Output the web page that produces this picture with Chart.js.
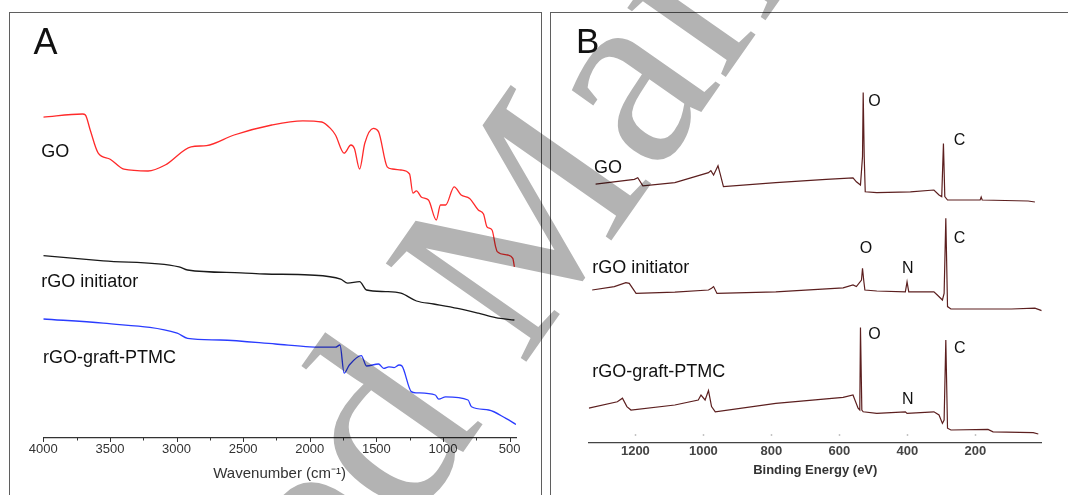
<!DOCTYPE html>
<html>
<head>
<meta charset="utf-8">
<script src="https://cdn.jsdelivr.net/npm/chart.js@4.4.1/dist/chart.umd.min.js"></script>
<style>
    html, body { margin: 0; padding: 0; background: #fff; }
    body { width: 1068px; height: 495px; position: relative; overflow: hidden; font-family: "Liberation Sans", Arial, sans-serif; }
    .panel { position: absolute; top: 12px; height: 483px; box-sizing: border-box; border: 1px solid #5f5f5f; border-bottom: none; }
    #panelA { left: 9px; width: 533px; }
    #panelB { left: 550px; width: 530px; border-right: none; }
    .panel canvas { display: block; }
    #wm { position: absolute; left: 0; top: 0; mix-blend-mode: multiply; pointer-events: none; }
</style>
</head>
<body>
<div class="panel" id="panelA"><canvas id="chartA" width="531" height="482"></canvas></div>
<div class="panel" id="panelB"><canvas id="chartB" width="517" height="482"></canvas></div>
<canvas id="wm" width="1068" height="495"></canvas>

<script>
// ---------------- FTIR (panel A): wavenumber (cm-1) vs transmittance (a.u.)
var GO_WN = [4000, 3705, 3684, 3648, 3589, 3498, 3395, 3214, 3085, 2891, 2775, 2568, 2285, 2052, 1910, 1845,
    1807, 1742, 1691, 1665, 1626, 1587, 1523, 1484, 1419, 1380, 1316, 1251, 1226, 1199, 1161, 1109, 1050,
    1019, 980, 916, 864, 800, 735, 696, 670, 632, 605, 593, 515, 476, 464];
var GO_T = [80.2, 81, 80.75, 77, 71.3, 69.7, 67.2, 66.75, 68.25, 72.8, 73.1, 75.75, 78.25, 79.3, 79, 77.4,
    75.75, 71.2, 73.25, 72.4, 67.25, 73.7, 77.4, 76.6, 67.8, 67.25, 67, 66, 61.2, 61.8, 60.2, 59.5, 54.5,
    58.25, 58.25, 62.8, 60.75, 59.9, 57, 56, 52.8, 52, 47.8, 46.6, 45.75, 44.9, 42.8];

var RGO_WN = [4000, 3550, 2981, 2917, 2517, 2336, 2000, 1768, 1716, 1626, 1574, 1432, 1316, 1199, 1070, 890, 735, 605, 464];
var RGO_T = [45.6, 44.3, 42.8, 42, 41.3, 41, 40.75, 39.7, 38.7, 39.1, 37, 36.6, 36.2, 34.25, 33.5, 32.4, 31.2, 30.1, 29.5];

var PTMC_WN = [4000, 3550, 2995, 2917, 2672, 2258, 2000, 1807, 1773, 1742, 1703, 1613, 1574, 1484, 1445, 1406,
    1367, 1329, 1308, 1238, 1199, 1058, 1032, 980, 812, 786, 657, 528, 452];
var PTMC_T = [29.75, 28.7, 26.2, 24.9, 24.5, 23.5, 22.8, 22.7, 23.25, 16.2, 18.25, 20.6, 18, 18.5, 17.4, 17.8,
    17.6, 18.25, 18, 11.6, 11.3, 10.75, 9.7, 10.3, 9.5, 7.8, 7, 4.9, 3.4];

var TICKS_A = [500, 1000, 1500, 2000, 2500, 3000, 3500, 4000];
var MINOR_A = [750, 1250, 1750, 2250, 2750, 3250, 3750];

var NAMES_A = ['GO', 'rGO initiator', 'rGO-graft-PTMC'];
var NAMES_A_X = [4015, 4015, 4002];
var NAMES_A_Y = [70.2, 37.8, 18.75];

// ---------------- XPS survey (panel B): binding energy (eV) vs intensity (a.u.)
var GO_EV = [1317, 1203, 1193, 1178, 1084, 985, 978, 970, 957, 951, 941, 787, 639, 560, 550, 538, 532, 530,
    527, 524, 490, 391, 322, 307, 299, 294, 290, 282, 243, 186, 183, 180, 45, 25];
var GO_I = [64.7, 65.9, 66.3, 64.3, 65.1, 67.6, 68.1, 67, 69.3, 67.4, 64.1, 65.1, 65.9, 66.3, 65.3, 64.5, 71.6, 87.6,
    71.6, 62.8, 62.6, 62.8, 63.25, 62, 61.6, 74.9, 61.6, 60.75, 60.75, 60.75, 61.5, 60.75, 60.5, 60.25];

var RGO_EV = [1327, 1262, 1228, 1218, 1198, 1084, 985, 976, 970, 960, 787, 589, 560, 550, 535, 532, 528, 525,
    490, 406, 401, 396, 322, 312, 297, 292, 287, 282, 272, 94, 25, 5];
var RGO_I = [38.25, 39.1, 40.1, 39.9, 37.4, 37.7, 38.25, 38.7, 39.1, 37.4, 37.8, 38.8, 39.5, 39.1, 40.75, 43.7, 40.3, 38.25,
    38, 37.8, 40.3, 37.8, 37.8, 37, 35.75, 37.4, 56.2, 34.1, 33.5, 33.5, 33.7, 33.1];

var PTMC_EV = [1337, 1253, 1238, 1225, 1213, 1084, 1015, 1007, 995, 985, 976, 965, 787, 589, 560, 545, 540, 538,
    534, 530, 490, 406, 401, 322, 307, 297, 292, 287, 282, 272, 163, 148, 30, 15];
var PTMC_I = [8.7, 10.3, 11.2, 9.1, 8.25, 9.5, 10.75, 12, 10.75, 13.1, 9.1, 7.8, 9.9, 11.4, 12, 8.7, 8.25, 28.9,
    8.25, 7.8, 7.4, 7.8, 7.4, 7.8, 7, 4.9, 5.75, 25.75, 3.7, 3.25, 3.4, 2.8, 2.6, 2.25];

var TICKS_B = [200, 400, 600, 800, 1000, 1200];

var NAMES_B = ['GO', 'rGO initiator', 'rGO-graft-PTMC'];
var NAMES_B_X = [1322, 1327, 1327];
var NAMES_B_Y = [67.4, 42.4, 16.6];

var PEAKS_B = ['O', 'C', 'O', 'N', 'C', 'O', 'N', 'C'];
var PEAKS_B_X = [515, 264, 540, 416, 264, 515, 416, 263];
var PEAKS_B_Y = [84.25, 74.5, 47.4, 42.6, 50.1, 25.9, 9.75, 22.4];

var FONT = '"Liberation Sans", Arial, sans-serif';

function pts(xs, ys) {
    return xs.map(function (x, i) { return { x: x, y: ys[i] }; });
}

// small tick marks along the x axis, placed with the x scale
var tickMarks = {
    id: 'tickMarks',
    afterDraw: function (chart, args, opts) {
        var s = chart.scales.x, ctx = chart.ctx, y0 = chart.chartArea.bottom;
        ctx.save();
        ctx.strokeStyle = opts.color;
        ctx.lineWidth = opts.width;
        function mark(v, len) {
            var x = Math.round(s.getPixelForValue(v)) + 0.5;
            ctx.beginPath();
            ctx.moveTo(x, y0 + opts.offset);
            ctx.lineTo(x, y0 + opts.offset + len);
            ctx.stroke();
        }
        (opts.major || []).forEach(function (v) { mark(v, opts.majorLen); });
        (opts.minor || []).forEach(function (v) { mark(v, opts.minorLen); });
        ctx.restore();
    }
};

// curve names / peak letters in data space + the panel letter
var textLabels = {
    id: 'textLabels',
    afterDatasetsDraw: function (chart, args, opts) {
        var ctx = chart.ctx, sx = chart.scales.x, sy = chart.scales.y;
        ctx.save();
        ctx.fillStyle = opts.color;
        ctx.textAlign = 'left';
        ctx.textBaseline = 'alphabetic';
        opts.groups.forEach(function (g) {
            ctx.font = g.font;
            g.text.forEach(function (t, i) {
                ctx.fillText(t, sx.getPixelForValue(g.x[i]), sy.getPixelForValue(g.y[i]));
            });
        });
        ctx.font = opts.panelFont;
        ctx.fillText(opts.panel, opts.panelX, opts.panelY);
        ctx.restore();
    }
};

function baseOptions(pad) {
    return {
        responsive: false,
        animation: false,
        devicePixelRatio: 1,
        layout: { padding: pad },
        elements: { point: { radius: 0, hoverRadius: 0 } },
        plugins: { legend: { display: false }, tooltip: { enabled: false } },
        scales: { y: { display: false, min: 0, max: 100 } }
    };
}

// ---------------- Panel A
var optA = baseOptions({ left: 33.3, right: 25, top: 25, bottom: 0 });
optA.elements.line = { borderWidth: 1.3, cubicInterpolationMode: 'monotone' };
optA.scales.x = {
    type: 'linear', reverse: true, min: 452, max: 4000,
    afterBuildTicks: function (s) { s.ticks = TICKS_A.map(function (v) { return { value: v }; }); },
    afterFit: function (s) { s.height = 57; },
    grid: { display: false, drawTicks: false },
    border: { display: true, color: '#333', width: 1.2 },
    ticks: { autoSkip: false, maxRotation: 0, padding: 4, color: '#333', font: { family: FONT, size: 13 },
        callback: function (v) { return String(v); } },
    title: { display: true, text: 'Wavenumber (cm\u207B\u00B9)', color: '#333', font: { family: FONT, size: 15 },
        padding: { top: 0, bottom: 12 } }
};
optA.plugins.tickMarks = { major: TICKS_A, minor: MINOR_A, majorLen: 4, minorLen: 2.5, offset: 0, color: '#333', width: 1 };
optA.plugins.textLabels = {
    color: '#111',
    groups: [{ text: NAMES_A, x: NAMES_A_X, y: NAMES_A_Y, font: '18px ' + FONT }],
    panel: 'A', panelX: 23.4, panelY: 41, panelFont: '36px ' + FONT
};

new Chart(document.getElementById('chartA'), {
    type: 'line',
    data: {
        datasets: [
            { label: 'GO', data: pts(GO_WN, GO_T), borderColor: '#ff2a2a' },
            { label: 'rGO initiator', data: pts(RGO_WN, RGO_T), borderColor: '#1a1a1a' },
            { label: 'rGO-graft-PTMC', data: pts(PTMC_WN, PTMC_T), borderColor: '#2a3cff' }
        ]
    },
    options: optA,
    plugins: [tickMarks, textLabels]
});

// ---------------- Panel B
var optB = baseOptions({ left: 37.8, right: 26.3, top: 30, bottom: 0 });
optB.elements.line = { borderWidth: 1.2, tension: 0 };
optB.scales.x = {
    type: 'linear', reverse: true, min: 5, max: 1337,
    afterBuildTicks: function (s) { s.ticks = TICKS_B.map(function (v) { return { value: v }; }); },
    afterFit: function (s) { s.height = 52; },
    grid: { display: false, drawTicks: false },
    border: { display: true, color: '#444', width: 1.3 },
    ticks: { autoSkip: false, maxRotation: 0, padding: 1, color: '#444', font: { family: FONT, size: 13, weight: 'bold' },
        callback: function (v) { return String(v); } },
    title: { display: true, text: 'Binding Energy (eV)', color: '#333', font: { family: FONT, size: 13, weight: 'bold' },
        padding: { top: 0, bottom: 17 } }
};
optB.plugins.tickMarks = { major: TICKS_B, majorLen: -2, offset: -7, color: '#c4c4c4', width: 1.5 };
optB.plugins.textLabels = {
    color: '#111',
    groups: [
        { text: NAMES_B, x: NAMES_B_X, y: NAMES_B_Y, font: '18px ' + FONT },
        { text: PEAKS_B, x: PEAKS_B_X, y: PEAKS_B_Y, font: '16px ' + FONT }
    ],
    panel: 'B', panelX: 25, panelY: 40.3, panelFont: '35px ' + FONT
};

new Chart(document.getElementById('chartB'), {
    type: 'line',
    data: {
        datasets: [
            { label: 'GO', data: pts(GO_EV, GO_I), borderColor: '#5c1f1f' },
            { label: 'rGO initiator', data: pts(RGO_EV, RGO_I), borderColor: '#5c1f1f' },
            { label: 'rGO-graft-PTMC', data: pts(PTMC_EV, PTMC_I), borderColor: '#5c1f1f' }
        ]
    },
    options: optB,
    plugins: [tickMarks, textLabels]
});

// ---------------- page watermark (multiplied over both panels)
(function () {
    var ctx = document.getElementById('wm').getContext('2d');
    ctx.save();
    ctx.fillStyle = '#b3b3b3';
    ctx.font = '262px "Liberation Serif", "Times New Roman", serif';
    ctx.translate(522, 368);
    ctx.rotate(-55 * Math.PI / 180);
    ctx.textBaseline = 'alphabetic';
    ctx.textAlign = 'left';
    ctx.fillText('Manuscript', 0, 0);
    ctx.textAlign = 'right';
    ctx.fillText('Accepted ', 0, 0);
    ctx.restore();
})();
</script>
</body>
</html>
